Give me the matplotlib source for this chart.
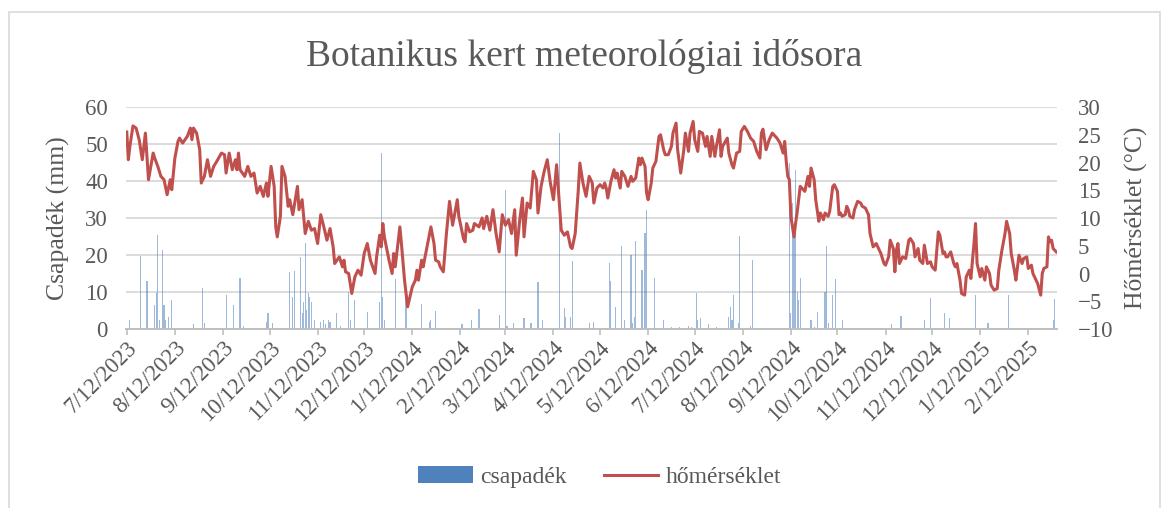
import numpy as np
import matplotlib
matplotlib.use("Agg")
import matplotlib.pyplot as plt
import matplotlib.dates as mdates
from matplotlib.patches import Patch, Rectangle
from matplotlib.lines import Line2D

# data (day offsets from 2023-07-12)
start = np.datetime64("2023-07-12")

temp_days = [0, 1, 2, 4, 6, 8, 10, 12, 14, 17, 18, 20, 22, 24, 26, 28, 29, 31, 33, 34,
             36, 39, 41, 42, 43, 45, 47, 48, 50, 52, 54, 56, 58, 61, 63, 64, 66, 68, 70, 71,
             72, 73, 76, 78, 80, 82, 84, 86, 88, 90, 91, 93, 95, 96, 97, 99, 100, 102,
             104, 105, 107, 110, 111, 113, 115, 117, 119, 121, 123, 125, 127, 129, 131, 133,
             134, 137, 139, 140, 141, 143, 145, 147, 149, 151, 153, 155, 157, 160, 161, 163,
             164, 165, 166, 169, 171, 172, 173, 176, 177, 179, 181, 183, 184, 186, 187, 188,
             190, 191, 196, 198, 199, 201, 202, 204, 206, 208, 210, 213, 214, 217, 218, 219,
             221, 223, 224, 227, 229, 230, 232, 234, 236, 238, 240, 242, 244, 246, 248, 250,
             251, 253, 255, 256, 258, 260, 262, 264, 265, 267, 269, 271, 273, 275, 277, 278,
             280, 282, 284, 286, 287, 289, 291, 292, 294, 296, 298,
             300, 301, 303, 305, 307, 308, 309, 310, 312, 314, 315, 316, 318, 319, 321, 323,
             325, 326, 328, 330, 331, 332, 334, 335, 336, 338, 339, 341, 343, 344, 346, 347,
             349, 351, 352, 354, 355, 357, 359, 360, 362, 363, 365, 366, 368, 369, 371, 373,
             374, 376, 377, 379, 380, 382, 383, 384, 387, 388, 390, 391, 393, 395, 396, 398,
             400, 402, 404, 406, 408, 409, 410, 412, 414, 416, 418, 419, 421, 423, 424, 425,
             426, 427, 428, 430, 431, 432, 434, 436, 437, 439, 440, 441, 443, 444, 446, 447,
             449, 450, 452, 453, 455, 456, 458, 459, 460, 461, 463, 464, 465, 466, 468, 469,
             471, 473, 474, 476, 478, 479, 481, 483, 484, 486, 488, 489, 491, 492, 494, 495,
             496, 497, 498, 500, 502, 504, 505, 507, 508, 510, 511, 513, 514, 516, 518, 519,
             521, 523, 524, 526, 527, 528, 529, 531, 533, 534, 535, 537, 538, 540, 541, 543,
             544, 546, 547, 548, 550, 551, 553, 554, 556, 557, 559, 561, 562, 564, 566, 567,
             569, 570, 572, 573, 575, 577, 578, 580, 581, 583, 584, 586, 587, 589, 590, 591,
             593, 594, 595, 596, 597, 599]
temp_vals = [25.5, 20.5, 22.9, 26.6, 26.2, 24.1, 20.5, 25.3, 16.9, 21.7, 20.8, 19.3, 17.5, 16.9,
             14.2, 16.9, 15.1, 20.8, 23.8, 24.4, 23.5, 24.7, 26.2, 24.1, 26.2, 25.3, 22.3, 16.3,
             17.5, 20.5, 17.5, 19.3, 20.2, 21.7, 21.4, 18.1, 21.7, 18.7, 20.5, 18.7, 21.7, 18.7,
             17.5, 19.3, 17.5, 18.1, 14.5, 15.7, 13.9, 16.3, 13.9, 19.3, 15.7, 8.4, 6.6, 10.3,
             19.3, 17.5,
             12.1, 13.3, 10.6, 15.7, 11.5, 13.3, 7.2, 9.4, 7.8, 8.1, 5.4, 10.6, 8.4, 6.0, 8.1, 4.8,
             1.8, 3.0, 1.2, 2.4, 0.3, 0.0, -3.6, -0.6, 0.6, -0.3, 3.6, 5.4, 2.4, 0.0, 3.0, 6.9,
             4.8, 9.0, 6.6, 2.4, 0.0, 3.6, 1.2, 8.4, 5.4, -1.2, -6.0, -3.6, -2.4, -1.2, 0.6, -1.2,
             2.4, 1.2, 8.4, 5.4, 2.4, 2.1, 1.2, 0.3, 7.2, 13.0, 8.7, 13.3, 10.3, 6.3, 5.7, 9.0,
             7.5, 7.8, 9.0, 8.4, 10.0, 8.1, 10.3, 7.8, 11.5, 7.2, 3.9, 10.6, 8.7, 9.7, 7.2, 11.5,
             3.3, 9.0, 13.6, 6.6, 12.7, 11.8, 18.4, 16.9, 10.9, 15.7, 18.4, 20.5, 16.3, 13.3, 19.6, 15.7,
             7.8, 6.9, 7.5, 4.8, 4.5, 7.2, 15.1, 19.9, 16.3, 13.9, 17.5,
             16.3, 12.7, 15.4, 16.0, 15.4, 16.3, 15.4, 13.6, 16.6, 18.7, 17.2, 18.1, 15.4, 18.4, 17.5, 15.7,
             17.5, 16.6, 17.2, 20.8, 19.6, 20.8, 19.3, 14.5, 13.3, 16.3, 19.0, 20.2, 24.7, 25.0, 22.3, 21.4,
             21.4, 22.9, 25.3, 27.1, 22.3, 18.1, 22.3, 25.3, 22.0, 25.3, 27.4, 24.1, 22.0, 25.6, 25.3, 22.9,
             24.7, 21.1, 24.7, 21.1, 22.9, 25.9, 21.1, 22.9, 24.4, 21.7, 19.6, 19.0, 21.7, 22.0, 25.6, 26.5,
             25.6, 24.4, 23.8, 22.0, 20.8, 25.3, 26.0, 22.3, 24.1, 25.3, 24.7, 24.4, 23.5, 21.7, 23.8, 20.2,
             17.5, 16.9, 10.3, 6.6, 9.0, 10.9, 15.7, 15.1, 14.8, 17.5, 15.7, 19.0, 16.9, 13.3, 9.4, 10.9,
             9.7, 10.9, 10.3, 11.2, 15.7, 16.0, 14.8, 10.6, 10.9, 10.3, 10.6, 12.1, 11.5, 10.3, 10.0, 11.5,
             13.0, 12.7, 12.1, 11.8, 10.6, 7.2, 4.8, 5.4, 4.8, 3.6, 1.8, 1.5, 3.0, 6.0, 4.5, 0.3,
             4.2, 5.4, 1.8, 3.0, 2.7, 6.0, 6.3, 5.4, 3.0, 4.5, 2.4, 1.8, 5.1, 1.8, 2.1, 1.2,
             0.6, 7.5, 6.9, 3.6, 3.9, 3.0, 3.0, 3.9, 1.8, 1.2, 1.8, -1.2, -3.6, -3.9, -0.6, 0.6,
             -0.9, 5.4, 9.0, 1.8, -0.6, 0.9, -1.2, 1.2, 0.0, -2.1, -3.0, -2.7, 0.6, 4.2, 7.2, 9.4,
             7.2, 3.6, 0.6, -1.2, 3.3, 1.8, 2.7, 3.0, 0.9, 1.5, 0.0, -1.2, -1.8, -3.9, 0.0, 0.9,
             1.2, 6.6, 5.7, 6.0, 4.5, 3.9]

rain_days = [2, 9, 13, 18, 19, 20, 21, 23, 24, 25, 27, 29, 43, 49, 50, 64, 69, 73, 75, 90,
             91, 94, 105, 107, 108, 112, 113, 114, 115, 116, 117, 118, 119, 121, 125, 127, 128, 130,
             131, 135, 138, 143, 144, 147, 155, 163, 164, 165, 166, 173, 180, 190, 195, 196, 199,
             216, 222, 227, 240, 244, 245, 249, 256, 260, 261, 265, 268, 279, 282, 283, 286, 287,
             298, 301, 311, 312, 315, 319, 321, 325, 326, 327, 328, 332, 334, 335, 340, 346, 351,
             356, 362, 364, 367, 368, 370, 375, 380, 388, 389, 390, 391, 394, 395, 402, 403, 427,
             428, 429, 430, 431, 432, 433, 434, 441, 443, 445, 450, 451, 452, 455, 457, 461, 493,
             499, 514, 518, 527, 530, 547, 555, 568, 597, 598]
rain_vals = [2.4, 19.7, 13.0, 6.5, 9.6, 25.4, 2.4, 21.4, 6.5, 2.4, 3.3, 7.8, 1.3, 11.0, 1.5, 9.2,
             6.5, 13.7, 0.8, 1.8, 4.2, 1.5, 15.5, 8.7, 15.8, 19.4, 4.2, 7.4, 23.2, 5.1, 9.6, 8.7,
             7.4, 2.4, 2.0, 2.4, 1.4, 2.4, 2.0, 4.4, 0.8, 10.1, 2.4, 7.8, 4.5, 7.4, 47.5, 8.7,
             2.4, 13.4, 8.7, 6.8, 2.0, 2.4, 5.0, 1.3, 2.4, 5.4, 3.8, 37.7, 0.8, 1.7, 2.9, 1.7,
             1.5, 12.8, 2.4, 53.0, 5.6, 3.3, 3.3, 18.4, 1.5, 2.0, 17.9, 13.1, 6.0, 22.3, 2.4, 20.0,
             1.5, 3.3, 23.9, 15.9, 26.0, 32.2, 13.7, 2.4, 0.6, 0.6, 0.8, 0.6, 9.8, 2.4, 2.9, 1.4,
             0.6, 3.3, 5.9, 2.4, 9.2, 1.7, 25.1, 0.9, 18.6, 44.8, 4.2, 34.0, 27.7, 43.0, 10.1, 7.8,
             13.7, 2.4, 0.6, 4.7, 10.1, 22.3, 1.5, 9.2, 13.4, 2.4, 1.4, 3.5, 2.4, 8.3, 4.4, 2.9,
             9.2, 1.7, 9.2, 2.4, 8.0]

temp_dates = start + np.array(temp_days).astype("timedelta64[D]")
rain_dates = start + np.array(rain_days).astype("timedelta64[D]")

grey = "#595959"
serif = ["Liberation Serif", "DejaVu Serif"]
plt.rcParams["font.family"] = serif

fig = plt.figure(figsize=(11.69, 5.08), dpi=100)
ax = fig.add_axes([126 / 1169, 1 - 329 / 508, 931 / 1169, 222 / 508])

ax.bar(rain_dates, rain_vals, width=0.75, color="#4F81BD", alpha=0.55, linewidth=0, zorder=2)
ax.set_ylim(0, 60)
ax.set_yticks(range(0, 61, 10))
ax.grid(axis="y", color="#D9D9D9", linewidth=1.3, zorder=0)
ax.set_axisbelow(True)

ax2 = ax.twinx()
ax2.plot(temp_dates, temp_vals, color="#C0504D", linewidth=2.2, zorder=3)
ax2.set_ylim(-10, 30)
ax2.set_yticks(range(-10, 31, 5))

ax.set_xlim(start - np.timedelta64(12, "h"), start + np.timedelta64(599 * 24 + 12, "h"))
ax.xaxis.set_major_locator(mdates.MonthLocator(bymonthday=12))
ax.xaxis.set_major_formatter(plt.FuncFormatter(
    lambda v, pos: "{d.month}/{d.day}/{d.year}".format(d=mdates.num2date(v))))

for a in (ax, ax2):
    for s in ("top", "left", "right"):
        a.spines[s].set_visible(False)
    a.spines["bottom"].set_color("#BFBFBF")
    a.spines["bottom"].set_linewidth(1.2)
    a.tick_params(axis="y", length=0, labelsize=16.5, labelcolor=grey)
ax.tick_params(axis="y", pad=13)
ax2.tick_params(axis="y", pad=15)
ax.tick_params(axis="x", length=4, color="#BFBFBF", width=1.2, labelsize=16.5,
               labelcolor=grey, pad=2)
for lab in ax.get_xticklabels():
    lab.set_rotation(45)
    lab.set_ha("right")
    lab.set_rotation_mode("anchor")

fig.text(0.5, 1 - 56 / 508, "Botanikus kert meteorológiai idősora", ha="center", va="center",
         fontsize=27, color=grey)
fig.text(58 / 1169, 1 - 218 / 508, "Csapadék (mm)", rotation=90, ha="center", va="center",
         fontsize=18.5, color=grey)
fig.text(1136 / 1169, 1 - 218 / 508, "Hőmérséklet (°C)", rotation=90, ha="center", va="center",
         fontsize=18.5, color=grey)

handles = [Patch(facecolor="#4F81BD", edgecolor="none"),
           Line2D([], [], color="#C0504D", linewidth=2.2)]
fig.legend(handles, ["csapadék", "hőmérséklet"], loc="center", bbox_to_anchor=(0.513, 1 - 477 / 508),
           ncol=2, frameon=False, fontsize=17, labelcolor=grey, handlelength=2.3,
           handleheight=0.7, columnspacing=1.6, handletextpad=0.3)

fig.patches.append(Rectangle((9 / 1169, -0.1), 1151 / 1169, 1.1 + (-12 / 508), transform=fig.transFigure,
                             fill=False, edgecolor="#D9D9D9", linewidth=1.2))

fig.savefig("out.png", dpi=100)
